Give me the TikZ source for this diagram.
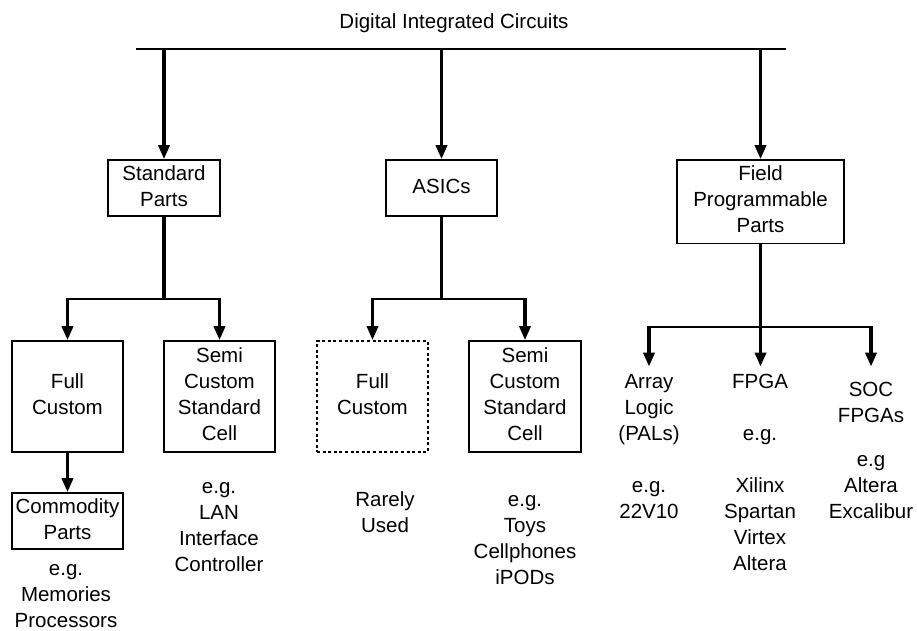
\documentclass[tikz,border=0pt]{standalone}
\usepackage{fontspec}
\setmainfont{Liberation Sans}
\usetikzlibrary{arrows.meta}
\begin{document}
\begin{tikzpicture}[x=1pt,y=-1pt,
  every node/.style={font=\fontsize{20.5}{26}\selectfont, inner sep=0pt, align=center, text=black},
  box/.style={draw, line width=1.6pt},
  dotbox/.style={draw, line width=1.8pt, dash pattern=on 3pt off 2.6pt},
  vconn/.style={line width=3.4pt, -{Triangle[width=11pt,length=14pt]}},
  vline/.style={line width=3.4pt},
  hbar/.style={line width=2.3pt, shorten <=-1.7pt, shorten >=-1.7pt},
  topbar/.style={line width=2pt},
]
\useasboundingbox[fill=white] (0,0) rectangle (917,630);

% title
\node (title) at (454,23.1) {\strut Digital Integrated Circuits};

% level 1
\node[box, minimum width=112pt, minimum height=56pt] (sp) at (164,188) {\strut Standard\\\strut Parts};
\node[box, minimum width=111pt, minimum height=56pt] (asic) at (441.5,188) {\strut ASICs};
\node[box, minimum width=167pt, minimum height=83.5pt] (fpp) at (760.5,201.75) {\strut Field\\\strut Programmable\\\strut Parts};

% level 2
\node[box, minimum width=111pt, minimum height=111pt] (fc1) at (67.5,396.5) {\strut Full\\\strut Custom};
\node[box, minimum width=111pt, minimum height=111pt] (sc1) at (219.5,396.5) {\strut Semi\\\strut Custom\\\strut Standard\\\strut Cell};
\node[dotbox, minimum width=111pt, minimum height=111pt] (fc2) at (372.5,396.5) {\strut Full\\\strut Custom};
\node[box, minimum width=112pt, minimum height=111pt] (sc2) at (525,396.5) {\strut Semi\\\strut Custom\\\strut Standard\\\strut Cell};

\node (pal) at (649,447.8) {\strut Array\\\strut Logic\\\strut (PALs)\\\strut\\\strut e.g.\\\strut 22V10};
\node (fpga) at (760,473.8) {\strut FPGA\\\strut\\\strut e.g.\\\strut\\\strut Xilinx\\\strut Spartan\\\strut Virtex\\\strut Altera};
\node (soc) at (871,451.8) {\strut SOC\\\strut FPGAs\\[18pt]\strut e.g\\\strut Altera\\\strut Excalibur};

% level 3
\node[box, minimum width=111pt, minimum height=56pt] (cp) at (67.5,521) {\strut Commodity\\\strut Parts};

% examples
\node (mem) at (66,592.4) {\strut e.g.\\\strut Memories\\Processors};
\node (lan) at (219,526.8) {\strut e.g.\\\strut LAN\\\strut Interface\\\strut Controller};
\node (rare) at (385,514.5) {\strut Rarely\\\strut Used};
\node (toys) at (525,540.3) {\strut e.g.\\\strut Toys\\\strut Cellphones\\\strut iPODs};

% top bar
\coordinate (barL) at (136,49);
\coordinate (barR) at (786,49);
\draw[topbar] (barL) -- (barR);
\draw[vconn] (sp.north |- barL) -- (sp.north);
\draw[vconn] (asic.north |- barL) -- (asic.north);
\draw[vconn] (fpp.north |- barL) -- (fpp.north);

% Standard Parts branch
\path (sp.south) ++(0,82) coordinate (j1);
\draw[vline] (sp.south) -- (j1);
\draw[hbar] (fc1.north |- j1) -- (sc1.north |- j1);
\draw[vconn] (fc1.north |- j1) -- (fc1.north);
\draw[vconn] (sc1.north |- j1) -- (sc1.north);
\draw[vconn] (fc1.south) -- (cp.north);

% ASICs branch
\path (asic.south) ++(0,82) coordinate (j2);
\draw[vline] (asic.south) -- (j2);
\draw[hbar] (fc2.north |- j2) -- (sc2.north |- j2);
\draw[vconn] (fc2.north |- j2) -- (fc2.north);
\draw[vconn] (sc2.north |- j2) -- (sc2.north);

% Field Programmable branch
\path (fpp.south) ++(0,82.5) coordinate (j3);
\draw[vconn, shorten >=3pt] (fpp.south) -- (fpp.south |- fpga.north);
\draw[hbar] (pal.north |- j3) -- (soc.north |- j3);
\draw[vconn, shorten >=3pt] (pal.north |- j3) -- (pal.north |- fpga.north);
\draw[vconn, shorten >=3pt] (soc.north |- j3) -- (soc.north |- fpga.north);
\end{tikzpicture}
\end{document}
